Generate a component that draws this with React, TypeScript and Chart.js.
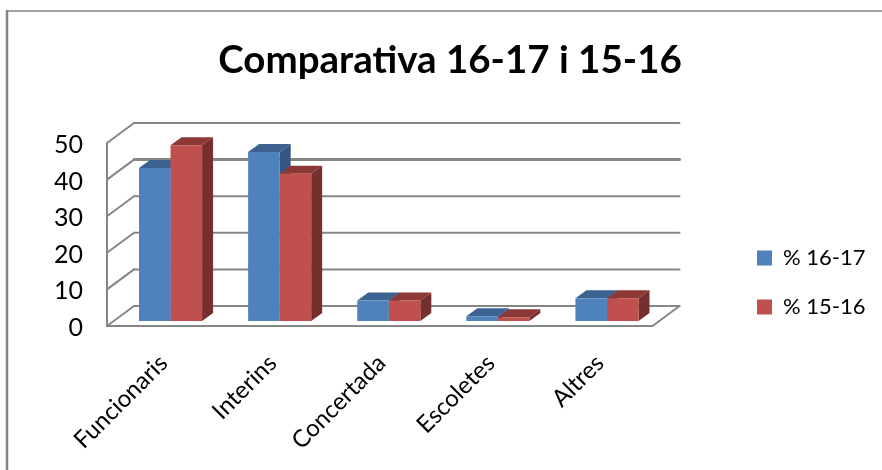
import React, { useEffect, useRef } from "react";
import { Chart, registerables } from "chart.js";

Chart.register(...registerables);

const categories = ["Funcionaris", "Interins", "Concertada", "Escoletes", "Altres"];
const series1617 = [41.8, 46.2, 5.6, 1.3, 6.2];
const series1516 = [48, 40.2, 5.6, 1, 6.2];
const titleText = "Comparativa 16-17 i 15-16";
const FONT = "Lato, Carlito, 'Open Sans', sans-serif";

const GRID = "#868686";
const WALL_DX = 27;
const WALL_DY = -20;
const BAR_SHIFT_X = 9;
const BAR_SHIFT_Y = -5;
const DEPTH_X = 11;
const DEPTH_Y = -8;
const TITLE_SHIFT = 42;

const faces = [
  { top: "#3B6291", side: "#33557F" },
  { top: "#8C3836", side: "#772F2D" },
];

const line = (ctx: CanvasRenderingContext2D, x1: number, y1: number, x2: number, y2: number, w: number, color = GRID) => {
  ctx.strokeStyle = color;
  ctx.lineWidth = w;
  ctx.beginPath();
  ctx.moveTo(x1, y1);
  ctx.lineTo(x2, y2);
  ctx.stroke();
};

const poly = (ctx: CanvasRenderingContext2D, color: string, pts: number[][]) => {
  ctx.fillStyle = color;
  ctx.beginPath();
  pts.forEach(([x, y], i) => (i ? ctx.lineTo(x, y) : ctx.moveTo(x, y)));
  ctx.closePath();
  ctx.fill();
};

const threeD = {
  id: "threeD",
  afterLayout(chart: any) {
    chart.titleBlock.left += TITLE_SHIFT;
    chart.titleBlock.right += TITLE_SHIFT;
  },
  beforeDraw(chart: any) {
    const { ctx, legend } = chart;
    ctx.save();
    ctx.fillStyle = "#fff";
    ctx.fillRect(0, 0, chart.width, chart.height);
    ctx.lineCap = "butt";
    line(ctx, 7, 10, 7, chart.height, 2.5);
    line(ctx, 6, 11, chart.width, 11, 1.5);
    ctx.restore();
    legend.left = 730;
    legend.right = 882;
    legend.top = 220;
    legend.bottom = 470;
  },
  beforeDatasetsDraw(chart: any) {
    const { ctx, chartArea: a, scales } = chart;
    const y = scales.y;
    ctx.save();
    ctx.lineCap = "round";
    y.ticks.forEach((t: any) => {
      const py = y.getPixelForValue(t.value);
      const w = t.value === 40 ? 3 : 2;
      line(ctx, a.left + WALL_DX, py + WALL_DY, a.right + WALL_DX, py + WALL_DY, w);
      line(ctx, a.left, py, a.left + WALL_DX, py + WALL_DY, 2);
    });
    line(ctx, a.left, a.top, a.left, a.bottom, 2);
    line(ctx, a.left, a.bottom, a.right, a.bottom, 2);
    line(ctx, a.right, a.bottom, a.right + WALL_DX, a.bottom + WALL_DY, 2);
    ctx.translate(BAR_SHIFT_X, BAR_SHIFT_Y);
    faces.forEach((f, i) => {
      chart.getDatasetMeta(i).data.forEach((b: any) => {
        const l = b.x - b.width / 2;
        const r = b.x + b.width / 2;
        poly(ctx, f.top, [[l, b.y], [l + DEPTH_X, b.y + DEPTH_Y], [r + DEPTH_X, b.y + DEPTH_Y], [r, b.y]]);
        poly(ctx, f.side, [[r, b.y], [r + DEPTH_X, b.y + DEPTH_Y], [r + DEPTH_X, b.base + DEPTH_Y], [r, b.base]]);
      });
    });
    ctx.restore();
  },
  beforeDatasetDraw(chart: any) {
    chart.ctx.save();
    chart.ctx.translate(BAR_SHIFT_X, BAR_SHIFT_Y);
  },
  afterDatasetDraw(chart: any) {
    chart.ctx.restore();
  },
};

export default function App() {
  const ref = useRef<HTMLCanvasElement>(null);
  useEffect(() => {
    const chart = new Chart(ref.current!, {
      type: "bar",
      data: {
        labels: categories,
        datasets: [
          { label: "% 16-17", data: series1617, backgroundColor: "#4F81BD", clip: false } as any,
          { label: "% 15-16", data: series1516, backgroundColor: "#C0504D", clip: false } as any,
        ],
      },
      plugins: [threeD],
      options: {
        responsive: false,
        animation: false,
        devicePixelRatio: 1,
        layout: { padding: { left: 18, right: 84, top: 0, bottom: 0 } },
        datasets: { bar: { categoryPercentage: 0.578, barPercentage: 1 } },
        plugins: {
          title: {
            display: true,
            text: titleText,
            color: "#000",
            font: { family: FONT, size: 38.5, weight: "bold", lineHeight: 1.2 },
            padding: { top: 37, bottom: 59.8 },
          },
          legend: {
            display: true,
            position: "right",
            align: "start",
            labels: {
              color: "#000",
              font: { family: FONT, size: 22 },
              boxWidth: 15,
              boxHeight: 15,
              padding: 27,
            },
          },
          tooltip: { enabled: false },
        },
        scales: {
          x: {
            grid: { display: false },
            border: { display: false },
            afterFit: (s: any) => { s.height = 144; },
            ticks: {
              color: "#000",
              font: { family: FONT, size: 24 },
              minRotation: 45,
              maxRotation: 45,
              padding: 15,
              labelOffset: 2,
            },
          },
          y: {
            min: 0,
            max: 50,
            grid: { display: false },
            border: { display: false },
            afterFit: (s: any) => { s.width = 89; },
            ticks: {
              stepSize: 10,
              color: "#000",
              font: { family: FONT, size: 25 },
              padding: 16,
              labelOffset: 2,
            },
          },
        },
      },
    });
    return () => chart.destroy();
  }, []);
  return (
    <div style={{ position: "fixed", left: 0, top: 0, width: 882, height: 470, overflow: "hidden" }}>
      <canvas ref={ref} width={882} height={470} style={{ display: "block" }} />
    </div>
  );
}
